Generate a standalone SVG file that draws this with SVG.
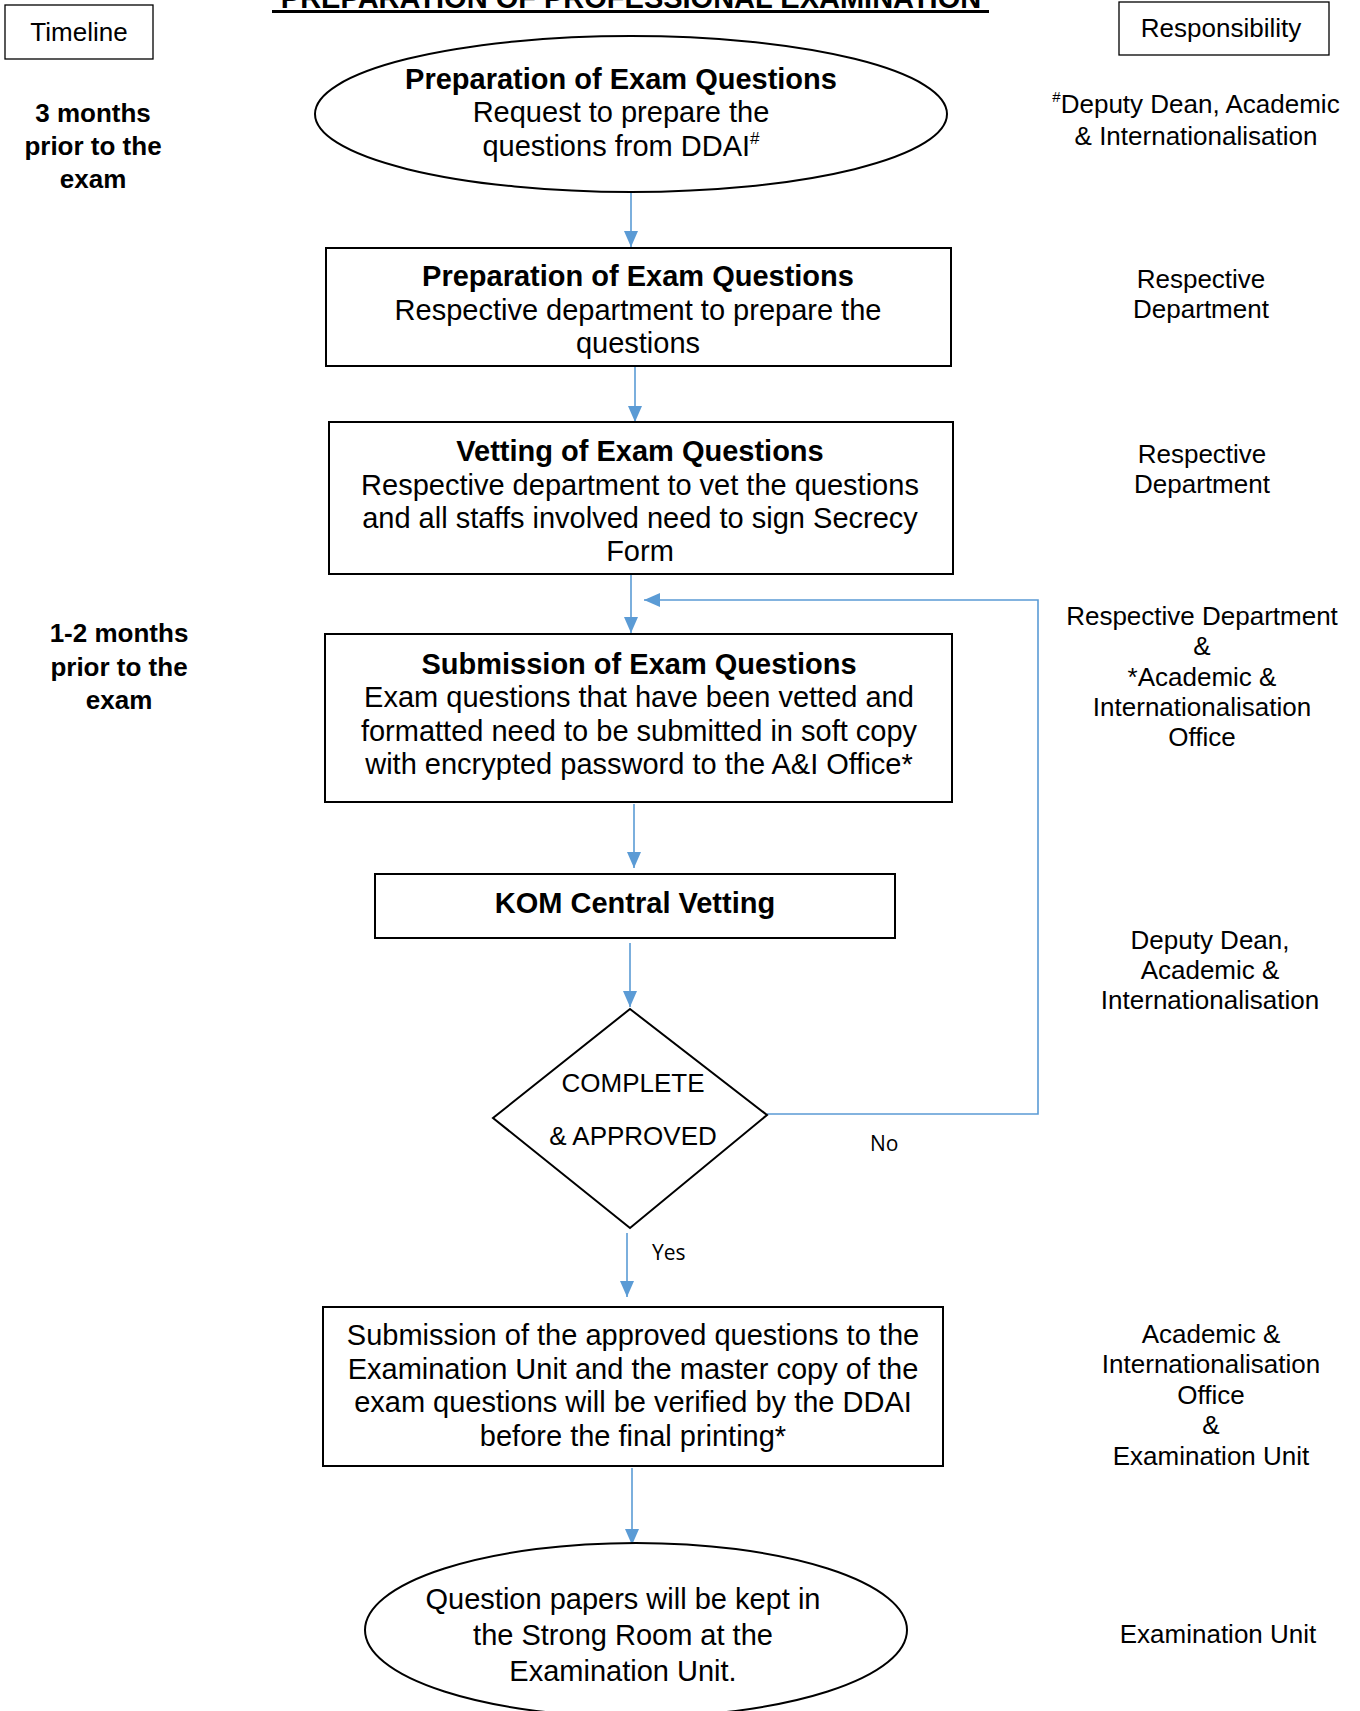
<svg xmlns="http://www.w3.org/2000/svg" width="1360" height="1711" viewBox="0 0 1360 1711">
<style>
text{font-family:"Liberation Sans",Arial,sans-serif;fill:#000}
.m{font-size:29px;text-anchor:middle}
.b{font-weight:bold}
.r{font-size:26px;text-anchor:middle}
.lb{font-size:26px;font-weight:bold;text-anchor:middle}
.yn{font-family:"Open Sans","Noto Sans",sans-serif;font-size:21px}
.shape{fill:#fff;stroke:#000;stroke-width:2}
.conn{fill:none;stroke:#5B9BD5;stroke-width:1.6}
</style>
<defs>
<marker id="ah" markerUnits="userSpaceOnUse" markerWidth="16" markerHeight="14" refX="16" refY="7" orient="auto">
<path d="M0,0 L16,7 L0,14 Z" fill="#5B9BD5"/>
</marker>
</defs>
<rect width="1360" height="1711" fill="#fff"/>
<g id="title">
<text x="631" y="8" class="b" font-size="29" text-anchor="middle">PREPARATION OF PROFESSIONAL EXAMINATION</text>
<rect x="272" y="10" width="717" height="3" fill="#000"/>
</g>
<g id="timeline-header">
<rect x="5" y="5" width="148" height="54" fill="#fff" stroke="#000" stroke-width="1.3"/>
<text x="79" y="41" class="r">Timeline</text>
</g>
<g id="responsibility-header">
<rect x="1119" y="2" width="210" height="53" fill="#fff" stroke="#000" stroke-width="1.3"/>
<text x="1221" y="37" class="r">Responsibility</text>
</g>
<g id="timeline-1">
<text class="lb" x="93" y="122">3 months</text>
<text class="lb" x="93" y="155">prior to the</text>
<text class="lb" x="93" y="188">exam</text>
</g>
<g id="timeline-2">
<text class="lb" x="119" y="642">1-2 months</text>
<text class="lb" x="119" y="676">prior to the</text>
<text class="lb" x="119" y="709">exam</text>
</g>
<g id="connectors">
<path class="conn" d="M631 192 V247" marker-end="url(#ah)"/>
<path class="conn" d="M635 366 V422" marker-end="url(#ah)"/>
<path class="conn" d="M631 574 V633" marker-end="url(#ah)"/>
<path class="conn" d="M767 1114 H1038 V600 H644" marker-end="url(#ah)"/>
<path class="conn" d="M634 804 V868" marker-end="url(#ah)"/>
<path class="conn" d="M630 943 V1007" marker-end="url(#ah)"/>
<path class="conn" d="M627 1233 V1297" marker-end="url(#ah)"/>
<path class="conn" d="M632 1468 V1545" marker-end="url(#ah)"/>
<text class="yn" x="870" y="1151">No</text>
<text class="yn" x="652" y="1260">Yes</text>
</g>
<g id="start">
<ellipse class="shape" cx="631" cy="114" rx="316" ry="78"/>
<text class="m b" x="621" y="89">Preparation of Exam Questions</text>
<text class="m" x="621" y="122">Request to prepare the</text>
<text class="m" x="621" y="156">questions from DDAI<tspan font-size="17" dy="-12">#</tspan></text>
</g>
<g id="prepare">
<rect class="shape" x="326" y="248" width="625" height="118"/>
<text class="m b" x="638" y="286">Preparation of Exam Questions</text>
<text class="m" x="638" y="320">Respective department to prepare the</text>
<text class="m" x="638" y="353">questions</text>
</g>
<g id="vetting">
<rect class="shape" x="329" y="422" width="624" height="152"/>
<text class="m b" x="640" y="461">Vetting of Exam Questions</text>
<text class="m" x="640" y="495">Respective department to vet the questions</text>
<text class="m" x="640" y="528">and all staffs involved need to sign Secrecy</text>
<text class="m" x="640" y="561">Form</text>
</g>
<g id="submission">
<rect class="shape" x="325" y="634" width="627" height="168"/>
<text class="m b" x="639" y="674">Submission of Exam Questions</text>
<text class="m" x="639" y="707">Exam questions that have been vetted and</text>
<text class="m" x="639" y="741">formatted need to be submitted in soft copy</text>
<text class="m" x="639" y="774">with encrypted password to the A&amp;I Office*</text>
</g>
<g id="kom">
<rect class="shape" x="375" y="874" width="520" height="64"/>
<text class="m b" x="635" y="913">KOM Central Vetting</text>
</g>
<g id="decision">
<polygon class="shape" points="630,1009 767,1115 630,1228 493,1118"/>
<text class="r" x="633" y="1092">COMPLETE</text>
<text class="r" x="633" y="1145">&amp; APPROVED</text>
</g>
<g id="final-submission">
<rect class="shape" x="323" y="1307" width="620" height="159"/>
<text class="m" x="633" y="1345">Submission of the approved questions to the</text>
<text class="m" x="633" y="1379">Examination Unit and the master copy of the</text>
<text class="m" x="633" y="1412">exam questions will be verified by the DDAI</text>
<text class="m" x="633" y="1446">before the final printing*</text>
</g>
<g id="end">
<ellipse class="shape" cx="636" cy="1630" rx="271" ry="87"/>
<text class="m" x="623" y="1609">Question papers will be kept in</text>
<text class="m" x="623" y="1645">the Strong Room at the</text>
<text class="m" x="623" y="1681">Examination Unit.</text>
</g>
<g id="resp-1">
<text class="r" x="1196" y="113"><tspan font-size="15" dy="-11">#</tspan><tspan dy="11">Deputy Dean, Academic</tspan></text>
<text class="r" x="1196" y="145">&amp; Internationalisation</text>
</g>
<g id="resp-2">
<text class="r" x="1201" y="288">Respective</text>
<text class="r" x="1201" y="318">Department</text>
</g>
<g id="resp-3">
<text class="r" x="1202" y="463">Respective</text>
<text class="r" x="1202" y="493">Department</text>
</g>
<g id="resp-4">
<text class="r" x="1202" y="625">Respective Department</text>
<text class="r" x="1202" y="655">&amp;</text>
<text class="r" x="1202" y="686">*Academic &amp;</text>
<text class="r" x="1202" y="716">Internationalisation</text>
<text class="r" x="1202" y="746">Office</text>
</g>
<g id="resp-5">
<text class="r" x="1210" y="949">Deputy Dean,</text>
<text class="r" x="1210" y="979">Academic &amp;</text>
<text class="r" x="1210" y="1009">Internationalisation</text>
</g>
<g id="resp-6">
<text class="r" x="1211" y="1343">Academic &amp;</text>
<text class="r" x="1211" y="1373">Internationalisation</text>
<text class="r" x="1211" y="1404">Office</text>
<text class="r" x="1211" y="1434">&amp;</text>
<text class="r" x="1211" y="1465">Examination Unit</text>
</g>
<g id="resp-7">
<text class="r" x="1218" y="1643">Examination Unit</text>
</g>
</svg>
